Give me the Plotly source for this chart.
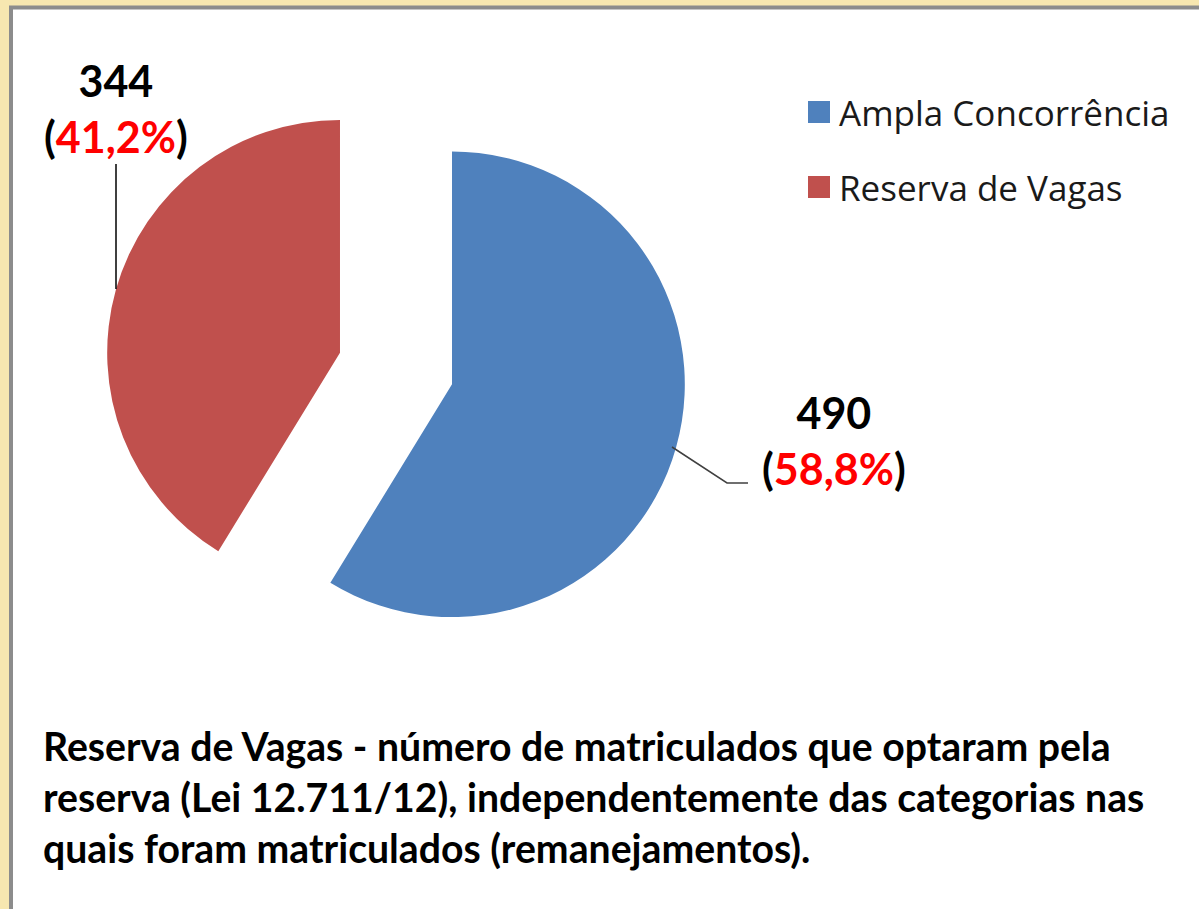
import plotly.graph_objects as go

# ---- data ----
categories = ["Ampla Concorrência", "Reserva de Vagas"]
values = [490, 344]
colors = ["#4F81BD", "#C0504D"]
note_lines = [
    "Reserva de Vagas - número de matriculados que optaram pela",
    "reserva (Lei 12.711/12), independentemente das categorias nas",
    "quais foram matriculados (remanejamentos).",
]

W, H = 1199, 909


def px(x):
    return x / W


def py(y):
    return 1 - y / H


total = sum(values)
pcts = [f"{v / total * 100:.1f}".replace(".", ",") + "%" for v in values]

fig = go.Figure()
fig.add_trace(go.Pie(
    labels=categories,
    values=values,
    sort=False,
    direction="clockwise",
    rotation=0,
    pull=[0.25, 0.25],
    marker=dict(colors=colors, line=dict(width=0)),
    textinfo="none",
    hoverinfo="label+value+percent",
    showlegend=False,
    domain=dict(x=[px(105), px(687)], y=[py(659.5), py(77.5)]),
))

shapes = [
    # white panel with grey frame
    dict(type="rect", xref="paper", yref="paper", layer="below",
         x0=px(11), x1=px(1215), y0=py(925), y1=py(7.5),
         fillcolor="white", line=dict(color="#8c8c8c", width=4)),
    # leader line for Reserva de Vagas
    dict(type="line", xref="paper", yref="paper",
         x0=px(116), x1=px(116), y0=py(164), y1=py(289),
         line=dict(color="#000000", width=1.5)),
    # leader line for Ampla Concorrência
    dict(type="path", xref="paper", yref="paper",
         path=f"M {px(672)} {py(447)} L {px(727)} {py(483)} L {px(748)} {py(483)}",
         line=dict(color="#404040", width=1.5)),
]

# legend squares
legend_y = [112, 187]
for c, ly in zip(colors, legend_y):
    shapes.append(dict(type="rect", xref="paper", yref="paper",
                       x0=px(808), x1=px(830), y0=py(ly + 11), y1=py(ly - 11),
                       fillcolor=c, line=dict(width=0)))

annotations = []
for name, ly in zip(categories, legend_y):
    annotations.append(dict(
        x=px(837), y=py(ly), xref="paper", yref="paper",
        xanchor="left", yanchor="middle", showarrow=False,
        text=name, font=dict(family="Open Sans", size=35, color="#1a1a1a")))

label_pos = [(834, 440), (116, 108)]
for v, p, (lx, ly) in zip(values, pcts, label_pos):
    annotations.append(dict(
        x=px(lx), y=py(ly), xref="paper", yref="paper",
        xanchor="center", yanchor="middle", showarrow=False, align="center",
        text=f"<b>{v}</b><br><b>(<span style='color:#FF0000'>{p}</span>)</b>",
        font=dict(family="Lato", size=43, color="#000000")))

annotations.append(dict(
    x=px(41), y=py(720), xref="paper", yref="paper",
    xanchor="left", yanchor="top", showarrow=False, align="left",
    text="<b>" + "<br>".join(note_lines) + "</b>",
    font=dict(family="Lato", size=39.2, color="#000000")))

fig.update_layout(
    width=W, height=H, autosize=False,
    margin=dict(l=0, r=0, t=0, b=0),
    paper_bgcolor="#f7e7b0",
    plot_bgcolor="#f7e7b0",
    shapes=shapes,
    annotations=annotations,
)

fig.write_html(
    "out.html",
    config={"displayModeBar": False},
    post_script="document.body.style.margin='0';document.body.style.overflow='hidden';",
)
